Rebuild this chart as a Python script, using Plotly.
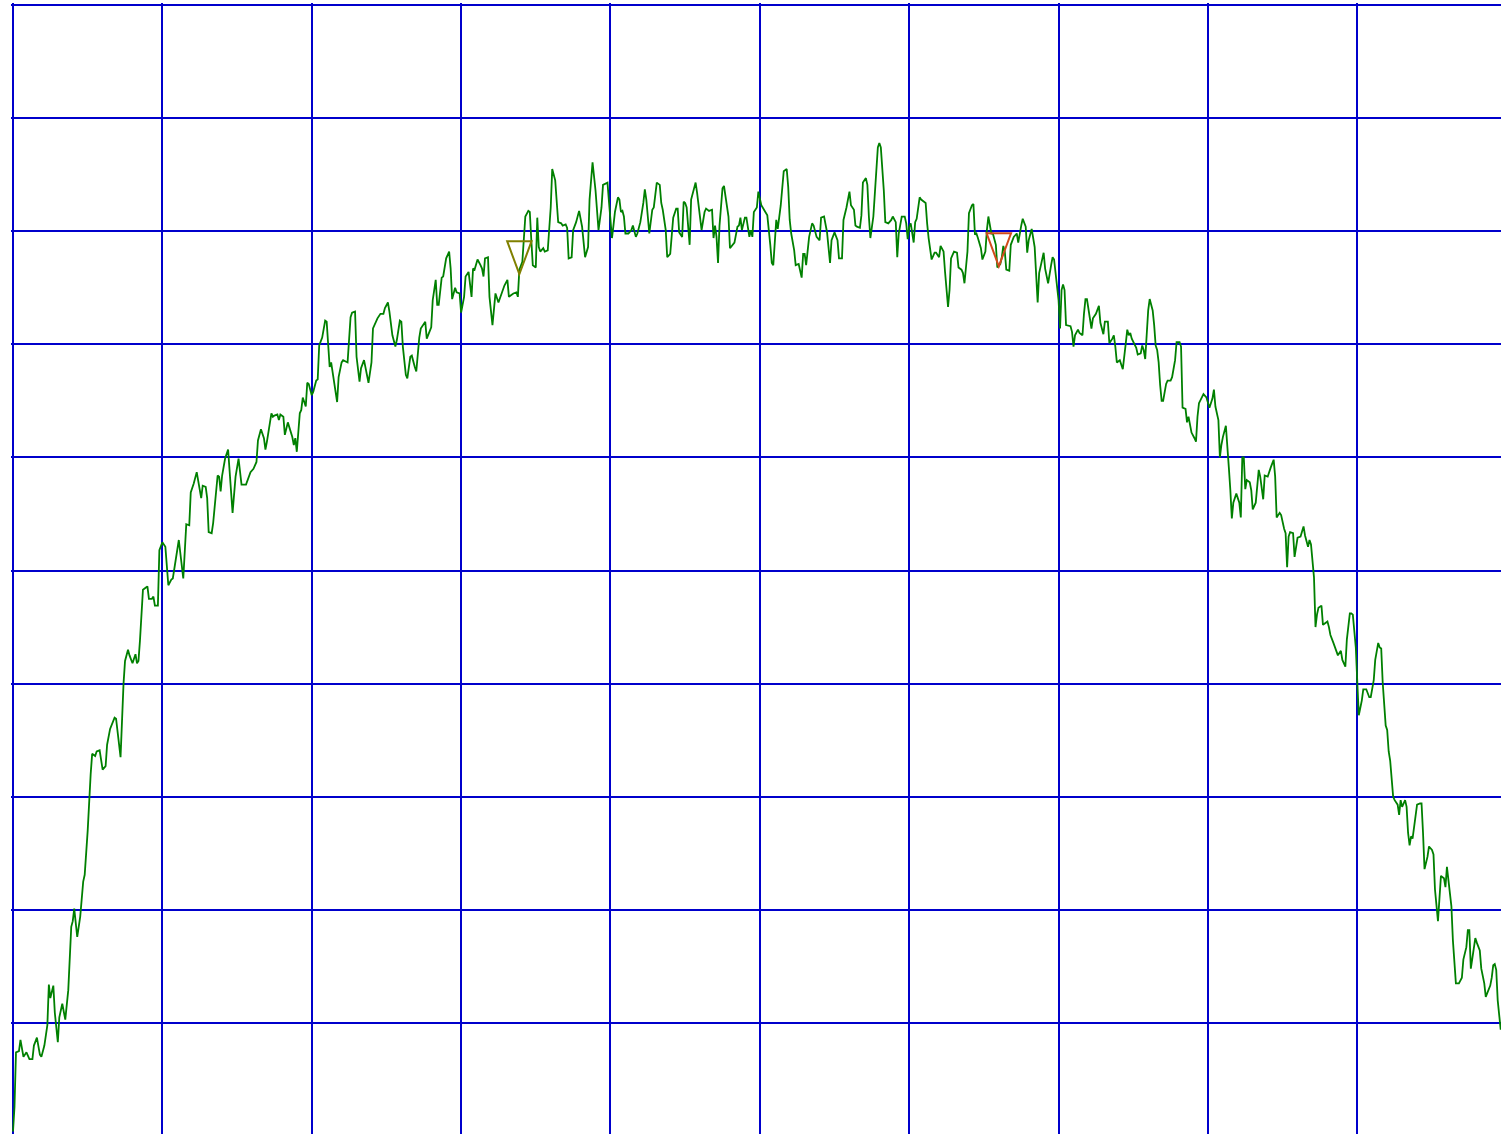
import plotly.graph_objects as go

# Sample index and signal level of the trace
sample_index = [
    0, 1, 2, 4, 5, 7, 9, 11, 13, 14, 16, 18, 19, 21, 23, 24, 25, 27, 28, 30,
    31, 33, 35, 37, 39, 40, 41, 43, 45, 47, 48, 50, 52, 53, 55, 56, 58, 60, 62, 63,
    65, 68, 69, 72, 74, 75, 77, 78, 80, 82, 83, 84, 85, 87, 89, 90, 91, 93, 94, 95,
    97, 98, 100, 102, 104, 106, 107, 109, 111, 114, 115, 116, 118, 119, 121, 123, 126, 127, 129, 130,
    131, 133, 134, 136, 137, 138, 139, 140, 142, 144, 145, 147, 149, 151, 153, 156, 159, 161, 163, 164,
    166, 168, 169, 170, 173, 174, 175, 177, 178, 179, 181, 182, 184, 185, 187, 188, 189, 190, 192, 193,
    194, 196, 197, 198, 200, 201, 203, 204, 205, 207, 209, 210, 212, 213, 215, 217, 218, 220, 221, 224,
    226, 227, 229, 230, 232, 233, 235, 237, 238, 240, 241, 244, 246, 248, 249, 251, 252, 254, 256, 257,
    259, 260, 261, 263, 264, 266, 267, 269, 270, 272, 273, 276, 277, 280, 281, 283, 284, 285, 287, 288,
    290, 292, 293, 294, 296, 297, 299, 300, 302, 303, 305, 307, 308, 309, 311, 313, 314, 315, 316, 318,
    319, 321, 322, 323, 325, 327, 329, 331, 332, 335, 337, 338, 339, 341, 342, 343, 345, 346, 347, 348,
    350, 351, 352, 353, 355, 356, 358, 360, 361, 363, 365, 367, 368, 370, 371, 372, 374, 375, 377, 379,
    381, 382, 383, 385, 386, 388, 390, 392, 394, 395, 398, 399, 401, 402, 403, 405, 406, 407, 408, 409,
    410, 412, 414, 415, 417, 418, 420, 422, 423, 424, 426, 428, 429, 431, 433, 434, 435, 437, 438, 440,
    442, 444, 445, 446, 448, 449, 450, 451, 453, 454, 456, 457, 458, 460, 461, 463, 464, 466, 468, 469,
    470, 471, 472, 473, 475, 476, 477, 479, 480, 481, 483, 485, 486, 487, 488, 490, 491, 493, 494, 495,
    496, 498, 499, 501, 502, 505, 507, 508, 509, 511, 512, 514, 516, 518, 519, 520, 521, 523, 524, 526,
    528, 529, 530, 531, 533, 535, 536, 538, 540, 541, 543, 544, 545, 547, 548, 550, 552, 553, 555, 556,
    558, 560, 561, 563, 564, 565, 567, 568, 569, 571, 572, 573, 574, 576, 578, 579, 580, 581, 583, 584,
    586, 588, 589, 591, 592, 593, 595, 597, 598, 599, 600, 601, 603, 604, 605, 607, 608, 611, 612, 613,
    615, 617, 618, 620, 621, 623, 624, 626, 627, 628, 630, 632, 633, 635, 636, 637, 639, 640, 642, 643,
    644, 645, 646, 648, 649, 651, 652, 653, 655, 656, 658, 659, 661, 662, 663, 664, 665, 667, 668, 670,
    672, 673, 675, 676, 678, 679, 680, 682, 684, 685, 686, 687, 689, 690, 691, 693, 695, 696, 697, 699,
    700, 701, 702, 703, 704, 705, 708, 709, 710, 711, 713, 714, 716, 717, 718, 719, 721, 722, 723, 725,
    727, 728, 730, 731, 733, 734, 736, 737, 738, 739, 741, 742, 743, 745, 746, 747, 748, 749, 751, 752,
    753, 755, 756, 757, 758, 760, 761, 763, 764, 765, 766, 767, 768, 769, 770, 772, 773, 775, 776, 778,
    779, 781, 782, 783, 785, 786, 787, 788, 789, 791, 792, 793, 794, 797, 798, 799, 801, 803, 804, 805,
    807, 808, 809, 810, 812, 813, 814, 815, 816, 817, 819, 820, 821, 822, 823, 824, 825, 826, 828, 829,
    830, 832, 833, 834, 835, 837, 838, 840, 842, 844, 845, 846, 848, 849, 851, 852, 853, 854, 855, 857,
    858, 860, 862, 864, 865, 867, 868, 869, 871, 872, 873, 874, 876, 877, 878, 880, 881, 882, 884, 886,
    887, 889, 890, 892, 893, 895, 896, 897, 899, 900, 901, 903, 904, 906, 908, 909, 911, 912, 914, 915,
    916, 917, 918, 919, 920, 921, 922, 924, 925, 927, 928, 929, 930, 932, 933, 934, 935, 936, 937, 939,
    940, 942, 943, 944, 945, 947, 948, 950, 951, 952, 954, 955, 956, 958, 959, 960, 961, 963, 964, 965,
    966, 968, 969, 970, 971, 973, 974, 975, 976, 977, 979, 980, 982, 983, 985, 986, 987, 989, 990, 991,
    992, 993, 994, 996,
]

level = [
    0.4, 2.6, 7.4, 7.5, 8.5, 7.0, 7.4, 6.8, 6.8, 8.0, 8.7, 7.2, 7.0, 8.0, 9.8, 13.4, 12.2, 13.3, 10.9, 8.3,
    10.5, 11.7, 10.3, 12.9, 18.5, 19.0, 20.1, 17.6, 19.4, 22.5, 23.1, 27.0, 32.0, 33.8, 33.6, 34.0, 34.1, 32.4, 32.7, 34.6,
    36.0, 37.0, 36.9, 33.5, 40.0, 42.0, 43.0, 42.5, 41.8, 42.6, 41.8, 42.0, 43.8, 48.3, 48.5, 48.6, 47.5, 47.5, 47.7, 46.9,
    46.9, 51.8, 52.5, 52.1, 48.7, 49.2, 49.3, 51.1, 52.7, 49.3, 52.1, 54.1, 54.0, 56.9, 57.7, 58.7, 56.4, 57.5, 57.4, 56.4,
    53.4, 53.3, 54.2, 56.9, 58.4, 58.3, 57.0, 58.4, 59.9, 60.7, 58.6, 55.1, 58.3, 59.9, 57.6, 57.6, 58.7, 59.0, 59.6, 61.5,
    62.5, 61.7, 60.7, 61.4, 63.9, 63.6, 63.7, 63.8, 63.3, 63.8, 63.6, 62.0, 63.1, 62.7, 61.8, 61.1, 61.7, 60.5, 63.9, 64.2,
    65.3, 64.5, 66.6, 66.5, 65.5, 65.8, 66.8, 66.9, 69.9, 70.6, 72.1, 72.0, 68.0, 68.4, 66.8, 64.9, 67.1, 68.4, 68.6, 68.4,
    72.4, 72.8, 72.9, 68.9, 66.7, 67.9, 68.6, 67.0, 66.6, 68.4, 71.4, 72.3, 72.7, 72.7, 73.2, 73.7, 72.9, 70.8, 69.8, 70.4,
    72.1, 72.0, 69.8, 67.3, 67.0, 68.9, 69.0, 68.0, 67.6, 70.6, 71.4, 72.0, 70.5, 71.5, 73.9, 75.7, 73.5, 73.5, 75.9, 76.0,
    77.6, 78.2, 76.7, 74.0, 75.0, 74.6, 74.5, 72.8, 74.2, 76.0, 76.4, 74.2, 76.7, 76.6, 77.5, 77.0, 76.7, 76.0, 77.6, 77.7,
    74.2, 71.7, 73.2, 74.5, 73.7, 74.4, 75.2, 75.7, 74.2, 74.5, 74.6, 74.2, 76.6, 77.3, 79.5, 81.3, 81.8, 81.7, 79.2, 77.0,
    76.8, 81.2, 78.6, 78.2, 78.5, 78.2, 78.3, 82.1, 85.5, 84.5, 80.8, 80.7, 80.5, 80.6, 80.3, 77.6, 77.7, 80.1, 80.8, 81.8,
    80.4, 78.6, 77.7, 78.6, 82.8, 86.1, 83.6, 80.1, 82.1, 84.1, 84.3, 82.6, 79.4, 80.5, 81.7, 83.0, 82.8, 81.7, 81.8, 81.3,
    79.8, 79.8, 80.1, 80.5, 79.5, 79.8, 80.8, 82.5, 83.7, 82.8, 79.8, 81.9, 82.1, 84.3, 84.1, 82.5, 81.9, 80.1, 77.7, 78.0,
    81.2, 82.0, 82.0, 79.9, 79.5, 82.6, 82.5, 82.1, 78.8, 82.8, 83.9, 84.3, 83.4, 81.3, 80.1, 81.7, 82.0, 81.8, 81.9, 79.4,
    80.5, 79.5, 77.2, 80.5, 83.8, 84.0, 83.2, 81.3, 78.5, 78.7, 79.0, 80.4, 80.5, 81.2, 80.1, 81.2, 81.2, 79.5, 80.1, 79.5,
    81.7, 82.1, 83.5, 82.3, 82.1, 81.4, 78.8, 77.2, 77.0, 81.0, 80.2, 82.3, 85.3, 85.5, 83.9, 81.0, 79.8, 78.3, 77.0, 77.1,
    75.9, 78.0, 78.0, 77.0, 79.5, 80.7, 80.5, 79.5, 79.2, 81.2, 81.3, 80.7, 79.9, 77.2, 79.2, 79.9, 79.2, 77.6, 77.6, 81.0,
    82.1, 83.5, 82.3, 81.9, 80.5, 80.4, 80.3, 81.4, 84.3, 84.7, 84.1, 81.3, 79.4, 81.3, 85.7, 87.4, 87.8, 87.4, 83.6, 80.8,
    80.7, 81.0, 81.3, 80.8, 77.7, 79.8, 81.3, 81.3, 80.7, 79.3, 80.4, 80.7, 79.0, 80.8, 81.1, 83.0, 82.8, 82.5, 80.7, 79.4,
    77.5, 78.1, 78.1, 77.7, 78.7, 78.2, 76.4, 73.3, 74.8, 77.6, 78.2, 78.1, 76.8, 76.6, 76.3, 75.4, 78.2, 81.6, 82.3, 82.4,
    79.7, 79.8, 79.4, 78.5, 77.5, 78.2, 80.1, 81.3, 79.8, 79.8, 78.8, 76.8, 77.1, 77.7, 78.7, 78.2, 76.6, 76.5, 78.8, 79.5,
    79.8, 79.0, 80.5, 81.1, 80.4, 78.1, 79.2, 80.2, 78.6, 75.9, 73.7, 76.3, 77.6, 78.1, 76.7, 75.4, 77.0, 77.7, 77.5, 75.4,
    73.9, 71.4, 74.8, 75.3, 74.8, 71.7, 71.6, 71.1, 69.8, 70.8, 71.3, 71.0, 70.8, 72.7, 74.0, 74.0, 72.0, 71.4, 72.3, 72.7,
    73.4, 71.9, 70.9, 72.0, 72.0, 70.1, 70.5, 70.8, 69.8, 68.4, 68.6, 68.2, 67.8, 70.1, 71.3, 70.8, 71.0, 70.5, 69.9, 69.7,
    69.1, 69.2, 69.9, 69.5, 68.7, 73.0, 74.0, 73.0, 71.7, 69.9, 69.5, 68.4, 66.4, 65.0, 65.0, 66.5, 66.8, 66.8, 67.1, 68.6,
    70.2, 70.2, 69.8, 64.4, 64.3, 63.1, 63.6, 63.0, 62.2, 61.7, 61.4, 63.6, 64.8, 65.6, 65.4, 65.3, 64.4, 65.2, 66.0, 64.5,
    63.3, 60.0, 61.1, 61.8, 62.8, 61.3, 59.1, 57.1, 54.6, 56.0, 56.8, 56.4, 56.0, 54.7, 60.0, 60.0, 57.2, 58.0, 57.8, 57.1,
    55.4, 56.0, 57.7, 58.9, 58.3, 56.3, 58.4, 58.3, 59.1, 59.8, 58.3, 54.7, 55.1, 54.9, 53.7, 53.3, 50.3, 53.0, 53.4, 53.3,
    51.2, 52.9, 53.0, 53.9, 53.1, 52.1, 52.7, 52.3, 49.4, 45.0, 46.1, 46.7, 46.9, 45.2, 45.3, 45.5, 45.0, 44.3, 43.6, 42.9,
    42.5, 42.9, 42.1, 41.5, 43.9, 46.2, 46.2, 46.1, 43.2, 40.1, 37.2, 38.5, 39.5, 39.5, 38.8, 38.8, 40.3, 42.1, 43.6, 43.2,
    43.1, 40.1, 37.9, 36.3, 35.9, 34.0, 33.2, 30.0, 29.7, 29.3, 28.4, 29.7, 29.1, 29.7, 29.1, 26.8, 25.7, 26.5, 26.3, 28.6,
    29.3, 29.4, 29.4, 26.8, 23.6, 24.7, 25.6, 25.3, 24.9, 21.8, 19.0, 21.0, 23.0, 22.8, 22.0, 23.8, 22.6, 20.3, 17.3, 14.9,
    13.5, 13.5, 13.8, 14.0, 15.6, 16.7, 18.2, 18.2, 14.8, 15.6, 17.5, 17.1, 16.4, 14.8, 13.5, 12.3, 12.7, 13.3, 14.0, 15.1,
    15.2, 14.7, 12.0, 9.4,
]

# Event markers (downward triangles pointing at the trace)
event_index = [339, 660]
event_level = [76.2, 76.9]
event_color = ["#808000", "#d04a1c"]

fig = go.Figure()
fig.add_trace(go.Scatter(
    x=sample_index, y=level, mode="lines",
    line=dict(color="#008000", width=1.8),
    hoverinfo="skip", showlegend=False,
))

# Triangle glyph in screen pixels, tip anchored on the event point
tri_path = "M -12.2,33 L 12.2,33 L 0,0 Z"
for ex, ey, ec in zip(event_index, event_level, event_color):
    fig.add_shape(
        type="path", xref="x", yref="y",
        xsizemode="pixel", ysizemode="pixel",
        xanchor=ex, yanchor=ey, path=tri_path,
        line=dict(color=ec, width=2), fillcolor="rgba(0,0,0,0)",
    )

grid = dict(
    showgrid=True, gridcolor="#0000cc", gridwidth=2,
    zeroline=False, showline=False, showticklabels=False, ticks="",
    fixedrange=True,
)
# Ranges padded slightly so the first grid lines sit just inside the plot area
fig.update_xaxes(range=[-1.34, 996.2], tick0=0, dtick=100, **grid)
fig.update_yaxes(range=[0.18, 100.18], tick0=0, dtick=10, **grid)

fig.update_layout(
    width=1501, height=1134,
    margin=dict(l=11, r=0, t=3, b=0, pad=0),
    paper_bgcolor="white", plot_bgcolor="white",
    showlegend=False,
)

fig.write_html("out.html", config={"displayModeBar": False})
